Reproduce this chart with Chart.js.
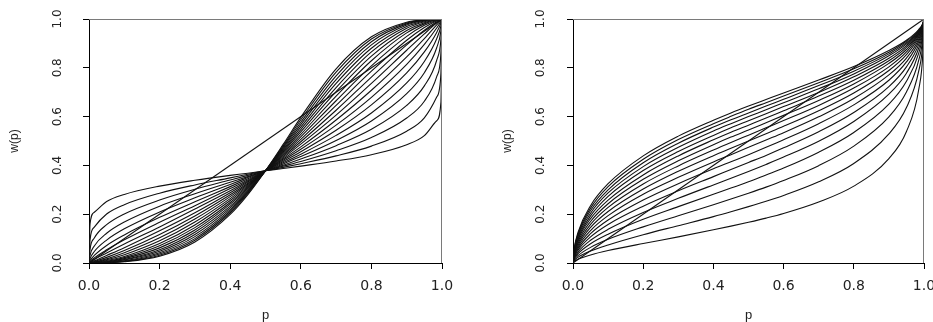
<!DOCTYPE html>
<html>
<head>
<meta charset="utf-8">
<script src="https://cdn.jsdelivr.net/npm/chart.js@4.4.1/dist/chart.umd.min.js"></script>
<style>
  html, body { margin: 0; padding: 0; background: #fff; }
  #wrap { position: relative; width: 933px; height: 322px; overflow: hidden; background: #fff; }
  #c1 { position: absolute; left: 0; top: 0; }
  #c2 { position: absolute; left: 466px; top: 0; }
</style>
</head>
<body>
<div id="wrap">
  <canvas id="c1" width="466" height="322"></canvas>
  <canvas id="c2" width="467" height="322"></canvas>
</div>
<script>
// probability grid (x values shared by every curve)
const pGrid = [0, 0.003, 0.015, 0.05, 0.1, 0.2, 0.3, 0.4, 0.45, 0.5, 0.55, 0.6, 0.7, 0.8, 0.9, 0.95, 0.985, 0.997, 1];
const tickValues = [0, 0.2, 0.4, 0.6, 0.8, 1.0];
const xTitle = "p";
const yTitle = "w(p)";

// left panel: curves crossing near p = 0.5
const leftG02 = [0, 0.160, 0.208, 0.252, 0.281, 0.315, 0.339, 0.359, 0.368, 0.378, 0.387, 0.397, 0.418, 0.444, 0.485, 0.522, 0.583, 0.660, 1];
const leftG03 = [0, 0.096, 0.147, 0.201, 0.239, 0.286, 0.320, 0.349, 0.364, 0.378, 0.392, 0.407, 0.439, 0.479, 0.540, 0.595, 0.680, 0.776, 1];
const leftG04 = [0, 0.056, 0.102, 0.157, 0.201, 0.258, 0.302, 0.340, 0.359, 0.378, 0.397, 0.416, 0.460, 0.514, 0.594, 0.663, 0.764, 0.861, 1];
const leftG05 = [0, 0.032, 0.070, 0.122, 0.168, 0.233, 0.284, 0.331, 0.354, 0.378, 0.401, 0.426, 0.481, 0.548, 0.646, 0.726, 0.831, 0.917, 1];
const leftG06 = [0, 0.018, 0.047, 0.094, 0.140, 0.209, 0.267, 0.322, 0.350, 0.378, 0.406, 0.436, 0.502, 0.582, 0.694, 0.780, 0.882, 0.952, 1];
const leftG07 = [0, 0.010, 0.031, 0.072, 0.115, 0.187, 0.251, 0.313, 0.345, 0.378, 0.411, 0.446, 0.523, 0.615, 0.738, 0.826, 0.919, 0.972, 1];
const leftG08 = [0, 0.006, 0.021, 0.054, 0.095, 0.167, 0.235, 0.305, 0.340, 0.378, 0.416, 0.456, 0.544, 0.648, 0.779, 0.865, 0.945, 0.984, 1];
const leftG09 = [0, 0.003, 0.014, 0.041, 0.078, 0.148, 0.221, 0.296, 0.336, 0.378, 0.421, 0.466, 0.565, 0.679, 0.814, 0.896, 0.963, 0.991, 1];
const leftG10 = [0, 0.002, 0.009, 0.031, 0.063, 0.132, 0.206, 0.288, 0.332, 0.378, 0.426, 0.476, 0.586, 0.708, 0.845, 0.920, 0.976, 0.995, 1];
const leftG11 = [0, 0.001, 0.006, 0.023, 0.051, 0.117, 0.193, 0.280, 0.327, 0.378, 0.431, 0.487, 0.606, 0.736, 0.872, 0.939, 0.984, 0.997, 1];
const leftG12 = [0, 0.001, 0.004, 0.017, 0.042, 0.103, 0.180, 0.272, 0.323, 0.378, 0.436, 0.497, 0.626, 0.762, 0.894, 0.954, 0.989, 0.998, 1];
const leftG13 = [0, 0.000, 0.003, 0.013, 0.034, 0.091, 0.168, 0.264, 0.318, 0.378, 0.441, 0.507, 0.646, 0.786, 0.913, 0.965, 0.993, 0.999, 1];
const leftG14 = [0, 0.000, 0.002, 0.010, 0.027, 0.080, 0.156, 0.256, 0.314, 0.378, 0.445, 0.517, 0.665, 0.808, 0.929, 0.974, 0.995, 1.000, 1];
const leftG15 = [0, 0.000, 0.001, 0.007, 0.022, 0.071, 0.145, 0.248, 0.310, 0.378, 0.450, 0.527, 0.684, 0.829, 0.943, 0.980, 0.997, 1.000, 1];
const leftG16 = [0, 0.000, 0.001, 0.005, 0.018, 0.062, 0.135, 0.241, 0.306, 0.378, 0.455, 0.537, 0.702, 0.848, 0.953, 0.985, 0.998, 1.000, 1];
const leftG17 = [0, 0.000, 0.000, 0.004, 0.014, 0.054, 0.126, 0.233, 0.301, 0.378, 0.460, 0.547, 0.719, 0.865, 0.962, 0.989, 0.999, 1.000, 1];
const leftG18 = [0, 0.000, 0.000, 0.003, 0.012, 0.048, 0.117, 0.226, 0.297, 0.378, 0.465, 0.557, 0.736, 0.880, 0.969, 0.992, 0.999, 1.000, 1];
const leftG19 = [0, 0.000, 0.000, 0.002, 0.009, 0.042, 0.108, 0.219, 0.293, 0.378, 0.470, 0.567, 0.752, 0.894, 0.975, 0.994, 1.000, 1.000, 1];
const leftG20 = [0, 0.000, 0.000, 0.002, 0.007, 0.037, 0.100, 0.212, 0.289, 0.378, 0.475, 0.577, 0.767, 0.907, 0.980, 0.995, 1.000, 1.000, 1];
const leftG21 = [0, 0.000, 0.000, 0.001, 0.006, 0.032, 0.093, 0.206, 0.285, 0.378, 0.480, 0.587, 0.782, 0.918, 0.984, 0.997, 1.000, 1.000, 1];
const leftG22 = [0, 0.000, 0.000, 0.001, 0.005, 0.028, 0.086, 0.199, 0.280, 0.378, 0.486, 0.597, 0.796, 0.927, 0.987, 0.997, 1.000, 1.000, 1];

// right panel: family of concave-convex curves
const rightD02 = [0, 0.006, 0.016, 0.033, 0.051, 0.080, 0.107, 0.136, 0.151, 0.167, 0.184, 0.203, 0.250, 0.315, 0.428, 0.539, 0.711, 0.867, 1];
const rightD03 = [0, 0.009, 0.024, 0.049, 0.074, 0.116, 0.153, 0.190, 0.210, 0.231, 0.253, 0.277, 0.333, 0.408, 0.529, 0.637, 0.787, 0.907, 1];
const rightD04 = [0, 0.012, 0.031, 0.064, 0.097, 0.148, 0.194, 0.239, 0.262, 0.286, 0.311, 0.338, 0.399, 0.479, 0.599, 0.701, 0.831, 0.929, 1];
const rightD05 = [0, 0.015, 0.039, 0.079, 0.118, 0.179, 0.231, 0.282, 0.307, 0.333, 0.361, 0.389, 0.454, 0.535, 0.651, 0.745, 0.860, 0.942, 1];
const rightD06 = [0, 0.018, 0.046, 0.093, 0.138, 0.207, 0.265, 0.320, 0.347, 0.375, 0.404, 0.434, 0.499, 0.580, 0.692, 0.778, 0.881, 0.951, 1];
const rightD07 = [0, 0.021, 0.054, 0.107, 0.158, 0.233, 0.296, 0.354, 0.383, 0.412, 0.441, 0.472, 0.538, 0.617, 0.723, 0.804, 0.896, 0.958, 1];
const rightD08 = [0, 0.024, 0.061, 0.120, 0.176, 0.258, 0.325, 0.386, 0.415, 0.444, 0.474, 0.505, 0.571, 0.648, 0.749, 0.824, 0.908, 0.963, 1];
const rightD09 = [0, 0.027, 0.068, 0.133, 0.194, 0.282, 0.351, 0.414, 0.444, 0.474, 0.504, 0.534, 0.599, 0.674, 0.771, 0.840, 0.917, 0.967, 1];
const rightD10 = [0, 0.030, 0.075, 0.146, 0.211, 0.303, 0.376, 0.440, 0.470, 0.500, 0.530, 0.560, 0.624, 0.697, 0.789, 0.854, 0.925, 0.970, 1];
const rightD11 = [0, 0.033, 0.082, 0.158, 0.228, 0.324, 0.398, 0.463, 0.494, 0.524, 0.554, 0.584, 0.646, 0.717, 0.804, 0.865, 0.931, 0.973, 1];
const rightD12 = [0, 0.036, 0.089, 0.170, 0.243, 0.343, 0.419, 0.485, 0.516, 0.545, 0.575, 0.605, 0.666, 0.734, 0.818, 0.875, 0.937, 0.975, 1];
const rightD13 = [0, 0.038, 0.096, 0.182, 0.258, 0.361, 0.439, 0.505, 0.536, 0.565, 0.594, 0.624, 0.684, 0.749, 0.829, 0.884, 0.941, 0.977, 1];
const rightD14 = [0, 0.041, 0.102, 0.193, 0.273, 0.379, 0.457, 0.523, 0.554, 0.583, 0.612, 0.641, 0.699, 0.763, 0.839, 0.891, 0.945, 0.979, 1];
const rightD15 = [0, 0.044, 0.109, 0.204, 0.287, 0.395, 0.474, 0.541, 0.571, 0.600, 0.628, 0.657, 0.714, 0.775, 0.849, 0.898, 0.949, 0.980, 1];
const rightD16 = [0, 0.047, 0.115, 0.215, 0.300, 0.411, 0.491, 0.557, 0.587, 0.615, 0.643, 0.671, 0.727, 0.786, 0.857, 0.903, 0.952, 0.981, 1];
const rightD17 = [0, 0.050, 0.121, 0.225, 0.313, 0.425, 0.506, 0.571, 0.601, 0.630, 0.657, 0.684, 0.739, 0.796, 0.864, 0.909, 0.954, 0.982, 1];
const rightD18 = [0, 0.052, 0.128, 0.235, 0.325, 0.439, 0.520, 0.585, 0.615, 0.643, 0.670, 0.697, 0.750, 0.805, 0.871, 0.913, 0.957, 0.983, 1];

// identity line w(p) = p
const diagP = [0, 1];
const diagW = [0, 1];

const leftCurves = [leftG02, leftG03, leftG04, leftG05, leftG06, leftG07, leftG08, leftG09, leftG10, leftG11, leftG12,
  leftG13, leftG14, leftG15, leftG16, leftG17, leftG18, leftG19, leftG20, leftG21, leftG22];
const rightCurves = [rightD02, rightD03, rightD04, rightD05, rightD06, rightD07, rightD08, rightD09, rightD10,
  rightD11, rightD12, rightD13, rightD14, rightD15, rightD16, rightD17, rightD18];

const LINE = '#111';

function makeDatasets(curves) {
  const ds = curves.map(row => ({
    data: pGrid.map((p, i) => ({ x: p, y: row[i] })),
    borderColor: LINE,
    borderWidth: 1.1,
    pointRadius: 0,
    fill: false,
    cubicInterpolationMode: 'monotone'
  }));
  ds.push({
    data: diagP.map((p, i) => ({ x: p, y: diagW[i] })),
    borderColor: LINE,
    borderWidth: 1.1,
    pointRadius: 0,
    fill: false,
    tension: 0
  });
  return ds;
}

const boxPlugin = {
  id: 'box',
  afterDatasetsDraw(chart) {
    const { ctx, chartArea: a } = chart;
    ctx.save();
    ctx.strokeStyle = '#7a7a7a';
    ctx.lineWidth = 1;
    ctx.beginPath();
    ctx.moveTo(a.left, Math.round(a.top) + 0.5);
    ctx.lineTo(a.right, Math.round(a.top) + 0.5);
    ctx.moveTo(Math.round(a.right) - 0.5, a.top);
    ctx.lineTo(Math.round(a.right) - 0.5, a.bottom);
    ctx.stroke();
    ctx.restore();
  }
};

function makeChart(canvasId, curves, yAxisWidth, rightPad, yTitlePad, yTickPad) {
  return new Chart(document.getElementById(canvasId), {
    type: 'line',
    data: { datasets: makeDatasets(curves) },
    plugins: [boxPlugin],
    options: {
      responsive: false,
      animation: false,
      devicePixelRatio: 1,
      layout: { padding: { left: 0, top: 19, right: rightPad, bottom: 0 } },
      plugins: { legend: { display: false }, tooltip: { enabled: false } },
      scales: {
        x: {
          type: 'linear',
          min: 0, max: 1,
          afterBuildTicks: s => { s.ticks = tickValues.map(v => ({ value: v })); },
          afterFit: s => { s.height = 59; s.paddingLeft = 0; s.paddingRight = 0; },
          ticks: {
            autoSkip: false,
            maxRotation: 0,
            padding: 9,
            color: '#222',
            font: { family: 'DejaVu Sans', size: 14 },
            callback: v => Number(v).toFixed(1)
          },
          grid: { drawOnChartArea: false, drawTicks: true, tickLength: 6, color: '#000', lineWidth: 1 },
          border: { display: true, color: '#000', width: 1 },
          title: {
            display: true, text: xTitle, color: '#222',
            font: { family: 'Liberation Sans', size: 13, lineHeight: '14px' },
            padding: { top: 0, bottom: 0 }
          }
        },
        y: {
          type: 'linear',
          min: 0, max: 1,
          afterBuildTicks: s => { s.ticks = tickValues.map(v => ({ value: v })); },
          afterFit: s => { s.width = yAxisWidth; s.paddingTop = 0; s.paddingBottom = 0; },
          ticks: {
            autoSkip: false,
            minRotation: 90,
            maxRotation: 90,
            crossAlign: 'center',
            padding: yTickPad,
            color: '#222',
            font: { family: 'DejaVu Sans', size: 12 },
            callback: v => Number(v).toFixed(1)
          },
          grid: { drawOnChartArea: false, drawTicks: true, tickLength: 6, color: '#000', lineWidth: 1 },
          border: { display: true, color: '#000', width: 1 },
          title: {
            display: true, text: yTitle, color: '#222',
            font: { family: 'Liberation Sans', size: 12, lineHeight: '14px' },
            padding: { top: yTitlePad, bottom: 0 }
          }
        }
      }
    }
  });
}

makeChart('c1', leftCurves, 89, 24, 8, 16);
makeChart('c2', rightCurves, 107, 9, 35, 17);
</script>
</body>
</html>
